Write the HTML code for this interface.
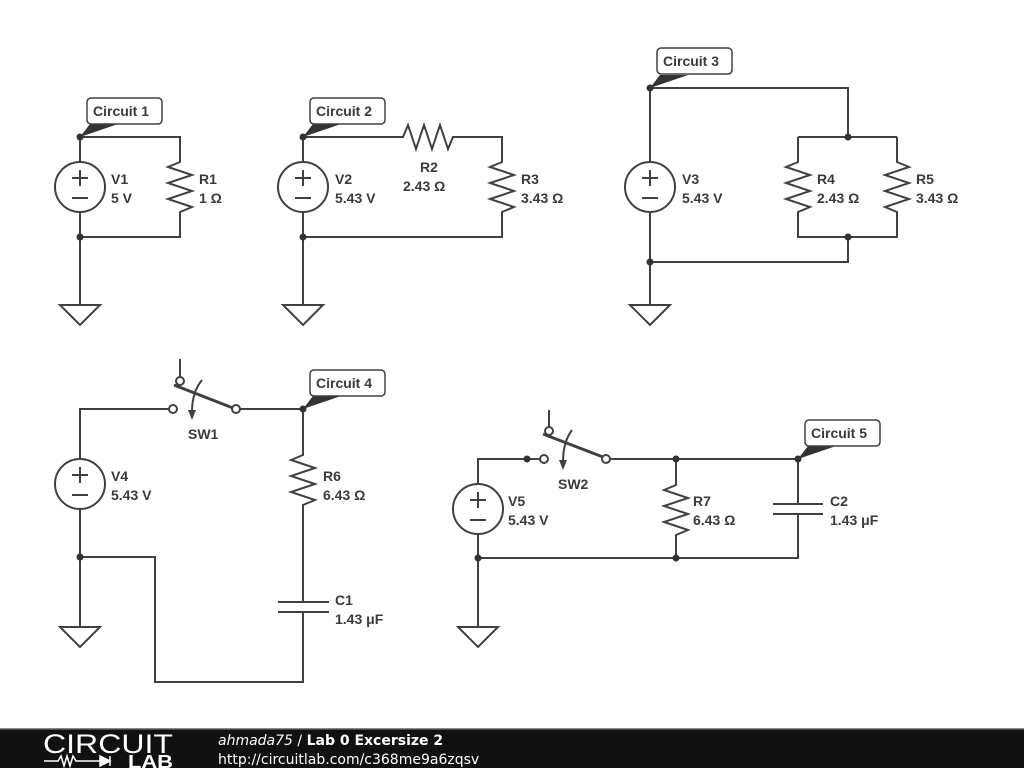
<!DOCTYPE html>
<html><head><meta charset="utf-8"><style>
html,body{margin:0;padding:0;background:#fff;width:1024px;height:768px;overflow:hidden}
svg{display:block}
text{font-family:"Liberation Sans",sans-serif;font-size:14px;font-weight:bold;fill:#3a3a3a}
</style></head><body>
<svg width="1024" height="768" viewBox="0 0 1024 768" xmlns="http://www.w3.org/2000/svg">
<g stroke="#404040" stroke-width="2" fill="none">
<path d="M80 137H180V162L168 167L192 175L168 183L192 191L168 199L192 207L180 212V237H80"/>
<path d="M80 137V162M80 212V305"/>
<circle cx="80" cy="187" r="25"/>
<path d="M60 305H100L80 325Z"/>
<path d="M303 137H403L408 125L416 149L424 125L432 149L440 125L448 149L453 137H502V162L490 167L514 175L490 183L514 191L490 199L514 207L502 212V237H303"/>
<path d="M303 137V162M303 212V305"/>
<circle cx="303" cy="187" r="25"/>
<path d="M283 305H323L303 325Z"/>
<path d="M650 88H848V137"/>
<path d="M798 137H897"/>
<path d="M798 137V162L786 167L810 175L786 183L810 191L786 199L810 207L798 212V237H897V212L885 207L909 199L885 191L909 183L885 175L909 167L897 162V137"/>
<path d="M848 237V262H650"/>
<path d="M650 88V162M650 212V305"/>
<circle cx="650" cy="187" r="25"/>
<path d="M630 305H670L650 325Z"/>
<path d="M80 459V409H169"/>
<path d="M240 409H303V455L291 460L315 468L291 476L315 484L291 492L315 500L303 505V602"/>
<path d="M278 602H329M278 612H329"/>
<path d="M303 612V682H155V557H80"/>
<path d="M80 509V627"/>
<circle cx="80" cy="484" r="25"/>
<path d="M60 627H100L80 647Z"/>
<circle cx="173" cy="409" r="4" fill="#fff"/>
<circle cx="236" cy="409" r="4" fill="#fff"/>
<circle cx="180" cy="381" r="4" fill="#fff"/>
<path d="M180 377V359"/>
<path d="M174 385L233 408" stroke-width="3"/>
<path d="M202 380Q192 392 192 412"/>
<path d="M478 484V459H540"/>
<circle cx="544" cy="459" r="4" fill="#fff"/>
<circle cx="606" cy="459" r="4" fill="#fff"/>
<circle cx="549" cy="431" r="4" fill="#fff"/>
<path d="M549 427V410"/>
<path d="M543 434L603 457" stroke-width="3"/>
<path d="M572 430Q563 442 563 462"/>
<path d="M610 459H798V504"/>
<path d="M773 504H823M773 514H823"/>
<path d="M798 514V558H478"/>
<path d="M676 459V485L664 490L688 498L664 506L688 514L664 522L688 530L676 535V558"/>
<path d="M478 534V627"/>
<circle cx="478" cy="509" r="25"/>
<path d="M458 627H498L478 647Z"/>
</g>
<g stroke="#404040" stroke-width="2">
<path d="M72 178H88M80 170V186M72 198H88"/>
<path d="M295 178H311M303 170V186M295 198H311"/>
<path d="M642 178H658M650 170V186M642 198H658"/>
<path d="M72 475H88M80 467V483M72 495H88"/>
<path d="M470 500H486M478 492V508M470 520H486"/>
</g>
<g fill="#404040">
<path d="M188 410L196 410L192 420Z"/>
<path d="M559 460L567 460L563 470Z"/>
</g>
<g fill="#333">
<circle cx="80" cy="137" r="3.5"/><circle cx="80" cy="237" r="3.5"/>
<circle cx="303" cy="137" r="3.5"/><circle cx="303" cy="237" r="3.5"/>
<circle cx="650" cy="88" r="3.5"/><circle cx="848" cy="137" r="3.5"/><circle cx="848" cy="237" r="3.5"/><circle cx="650" cy="262" r="3.5"/>
<circle cx="303" cy="409" r="3.5"/><circle cx="80" cy="557" r="3.5"/>
<circle cx="527" cy="459" r="3.5"/><circle cx="676" cy="459" r="3.5"/><circle cx="798" cy="459" r="3.5"/>
<circle cx="478" cy="558" r="3.5"/><circle cx="676" cy="558" r="3.5"/>
</g>
<g>
<path d="M80 137L90 124H118Z" fill="#333"/>
<rect x="87" y="98" width="75" height="26" rx="4" fill="#fff" stroke="#404040" stroke-width="1.5"/>
<text x="93" y="116">Circuit 1</text>
<path d="M303 137L313 124H341Z" fill="#333"/>
<rect x="310" y="98" width="75" height="26" rx="4" fill="#fff" stroke="#404040" stroke-width="1.5"/>
<text x="316" y="116">Circuit 2</text>
<path d="M650 88L660 75H688Z" fill="#333"/>
<rect x="657" y="48" width="75" height="26" rx="4" fill="#fff" stroke="#404040" stroke-width="1.5"/>
<text x="663" y="66">Circuit 3</text>
<path d="M303 409L313 396H341Z" fill="#333"/>
<rect x="310" y="370" width="75" height="26" rx="4" fill="#fff" stroke="#404040" stroke-width="1.5"/>
<text x="316" y="388">Circuit 4</text>
<path d="M798 459L808 446H836Z" fill="#333"/>
<rect x="805" y="420" width="75" height="26" rx="4" fill="#fff" stroke="#404040" stroke-width="1.5"/>
<text x="811" y="438">Circuit 5</text>
</g>
<text x="111" y="184">V1</text><text x="111" y="203">5 V</text>
<text x="199" y="184">R1</text><text x="199" y="203">1 Ω</text>
<text x="335" y="184">V2</text><text x="335" y="203">5.43 V</text>
<text x="420" y="172">R2</text><text x="403" y="191">2.43 Ω</text>
<text x="521" y="184">R3</text><text x="521" y="203">3.43 Ω</text>
<text x="682" y="184">V3</text><text x="682" y="203">5.43 V</text>
<text x="817" y="184">R4</text><text x="817" y="203">2.43 Ω</text>
<text x="916" y="184">R5</text><text x="916" y="203">3.43 Ω</text>
<text x="111" y="481">V4</text><text x="111" y="500">5.43 V</text>
<text x="188" y="439">SW1</text>
<text x="323" y="481">R6</text><text x="323" y="500">6.43 Ω</text>
<text x="335" y="605">C1</text><text x="335" y="624">1.43 μF</text>
<text x="508" y="506">V5</text><text x="508" y="525">5.43 V</text>
<text x="558" y="489">SW2</text>
<text x="693" y="506">R7</text><text x="693" y="525">6.43 Ω</text>
<text x="830" y="506">C2</text><text x="830" y="525">1.43 μF</text>
<rect x="0" y="729" width="1024" height="39" fill="#111"/>
<rect x="0" y="728" width="1024" height="1.5" fill="#888"/>
<text x="43" y="753" style="font-size:27px;font-weight:normal;fill:#fff" textLength="130" lengthAdjust="spacingAndGlyphs">CIRCUIT</text>
<g stroke="#fff" stroke-width="1.5" fill="none"><path d="M44 761H58L61 756L64 766L67 756L70 766L73 756L76 761H100M110 756V766M100 756V766L110 761Z"/></g>
<path d="M100 756V766L110 761Z" fill="#fff"/>
<text x="128" y="768" style="font-size:18px;fill:#fff" textLength="45" lengthAdjust="spacingAndGlyphs">LAB</text>
<text x="218" y="745" style="font-family:'DejaVu Sans',sans-serif;font-size:14px;fill:#fff"><tspan style="font-style:italic;font-weight:normal">ahmada75</tspan><tspan style="font-weight:normal"> / </tspan>Lab 0 Excersize 2</text>
<text x="218" y="764" style="font-family:'DejaVu Sans',sans-serif;font-size:14px;font-weight:normal;fill:#fff">http://circuitlab.com/c368me9a6zqsv</text>
</svg>
</body></html>
